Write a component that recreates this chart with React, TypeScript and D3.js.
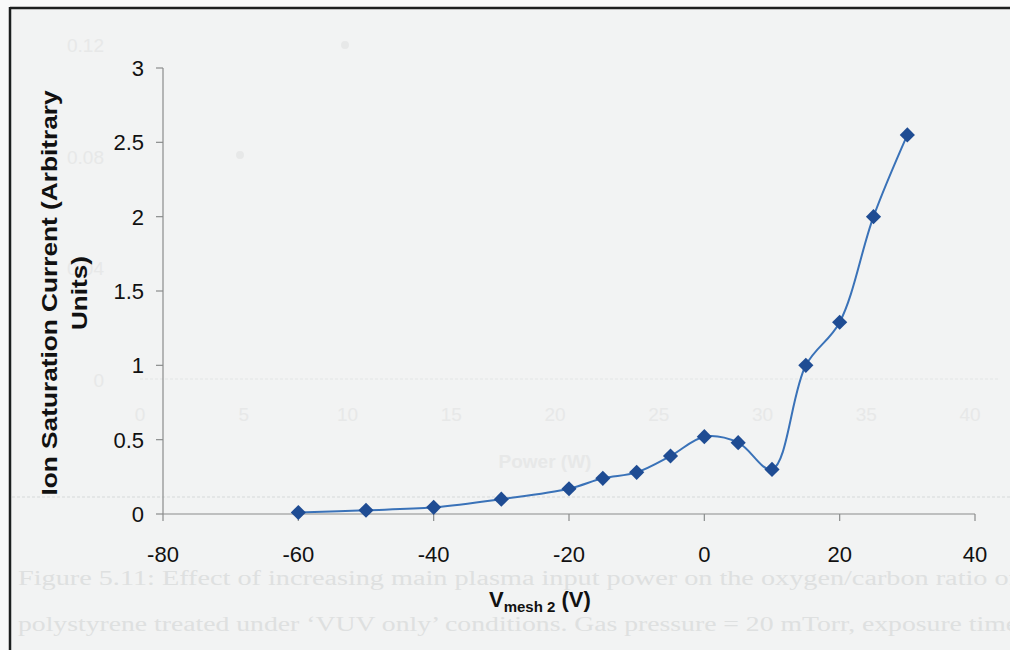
// @ts-nocheck
import React from 'react'
import * as d3 from 'd3'

// main series: V_mesh2 (V) vs ion saturation current
const voltages = [-60, -50, -40, -30, -20, -15, -10, -5, 0, 5, 10, 15, 20, 25, 30]
const currents = [0.01, 0.025, 0.045, 0.1, 0.17, 0.24, 0.28, 0.39, 0.52, 0.48, 0.3, 1.0, 1.29, 2.0, 2.55]
const xTicks = [-80, -60, -40, -20, 0, 20, 40]
const yTicks = [0, 0.5, 1, 1.5, 2, 2.5, 3]

// faint show-through from the reverse page of the scan
const ghostYLabels = ['0.12', '0.08', '0.04', '0']
const ghostXLabels = ['0', '5', '10', '15', '20', '25', '30', '35', '40']
const ghostCaption = [
  'Figure 5.11:  Effect of increasing main plasma input power on the oxygen/carbon ratio of',
  "polystyrene treated under \u2018VUV only\u2019 conditions.  Gas pressure = 20 mTorr, exposure time",
]

const W = 1010
const H = 650
const font = '"Liberation Sans", Arial, sans-serif'

const x = d3.scaleLinear().domain([-80, 40]).range([163, 975])
const y = d3.scaleLinear().domain([0, 3]).range([514, 68])

// ghost chart scales (only used for the faint background print)
const gx = d3.scaleLinear().domain([0, 40]).range([140, 970])
const gy = d3.scaleLinear().domain([0, 0.12]).range([380, 45])

const App = () => {
  const data = voltages.map((v, i) => ({ v, c: currents[i] }))
  const line = d3
    .line()
    .x((d) => x(d.v))
    .y((d) => y(d.c))
    .curve(d3.curveCatmullRom.alpha(0.5))
  const marker = d3.symbol(d3.symbolSquare, 115)()
  const ghost = '#e7e8e8'

  return (
    <svg width={W} height={H} style={{ position: 'absolute', left: 0, top: 0, display: 'block' }}>
      <rect width={W} height={H} fill="#f8f9f9" />
      <rect x={10} y={8} width={W} height={H} fill="#f2f3f3" />

      {/* ghost print */}
      <g fill={ghost} fontFamily={font} fontSize={19}>
        {ghostYLabels.map((t, i) => (
          <text key={t} x={104} y={gy(0.12 - i * 0.04) + 7} textAnchor="end">
            {t}
          </text>
        ))}
        {ghostXLabels.map((t) => (
          <text key={t} x={gx(+t)} y={421} textAnchor="middle">
            {t}
          </text>
        ))}
        <text x={545} y={468} textAnchor="middle" fontWeight="bold">
          Power (W)
        </text>
        <circle cx={345} cy={45} r={4} />
        <circle cx={240} cy={155} r={4} />
      </g>
      <line x1={140} x2={1000} y1={379} y2={379} stroke="#e8eaea" strokeWidth={1.5} strokeDasharray="3 2" />
      <line x1={12} x2={W} y1={497} y2={497} stroke="#e0e2e2" strokeWidth={1.5} strokeDasharray="3 2" />
      <g fill="#dee0e0" fontFamily='"Liberation Serif", "Times New Roman", serif' fontSize={20}>
        {ghostCaption.map((t, i) => (
          <text key={i} x={18} y={585 + i * 46} textLength={1000} lengthAdjust="spacingAndGlyphs">
            {t}
          </text>
        ))}
      </g>

      {/* frame */}
      <line x1={10} x2={W} y1={8} y2={8} stroke="#1c1f1f" strokeWidth={2.5} />
      <line x1={10} x2={10} y1={7} y2={H} stroke="#1c1f1f" strokeWidth={2.5} />

      {/* axes */}
      <g stroke="#8a8c8c" strokeWidth={1.2}>
        <line x1={x(-80)} x2={x(40)} y1={y(0)} y2={y(0)} />
        <line x1={x(-80)} x2={x(-80)} y1={y(0)} y2={y(3)} />
        {xTicks.map((t) => (
          <line key={t} x1={x(t)} x2={x(t)} y1={y(0)} y2={y(0) + 7} />
        ))}
        {yTicks.map((t) => (
          <line key={t} x1={x(-80) - 7} x2={x(-80)} y1={y(t)} y2={y(t)} />
        ))}
      </g>
      <g fontFamily={font} fontSize={22} fill="#111">
        {xTicks.map((t) => (
          <text key={t} x={x(t)} y={562} textAnchor="middle">
            {t}
          </text>
        ))}
        {yTicks.map((t) => (
          <text key={t} x={144} y={y(t) + 8} textAnchor="end">
            {t}
          </text>
        ))}
      </g>

      {/* axis titles */}
      <g fontFamily={font} fontSize={22} fontWeight="bold" fill="#111">
        <text
          transform="translate(57, 293) rotate(-90)"
          textAnchor="middle"
          textLength={405}
          lengthAdjust="spacingAndGlyphs"
        >
          Ion Saturation Current (Arbitrary
        </text>
        <text transform="translate(87, 293) rotate(-90)" textAnchor="middle" textLength={74} lengthAdjust="spacingAndGlyphs">
          Units)
        </text>
        <text x={489} y={607}>
          V<tspan fontSize={15} dy={5}>mesh 2</tspan>
          <tspan dy={-5}> (V)</tspan>
        </text>
      </g>

      {/* series */}
      <path d={line(data)} fill="none" stroke="#3a72b8" strokeWidth={2} />
      {data.map((d) => (
        <path
          key={d.v}
          d={marker}
          transform={`translate(${x(d.v)}, ${y(d.c)}) rotate(45)`}
          fill="#1f4c93"
        />
      ))}
    </svg>
  )
}

export default App
